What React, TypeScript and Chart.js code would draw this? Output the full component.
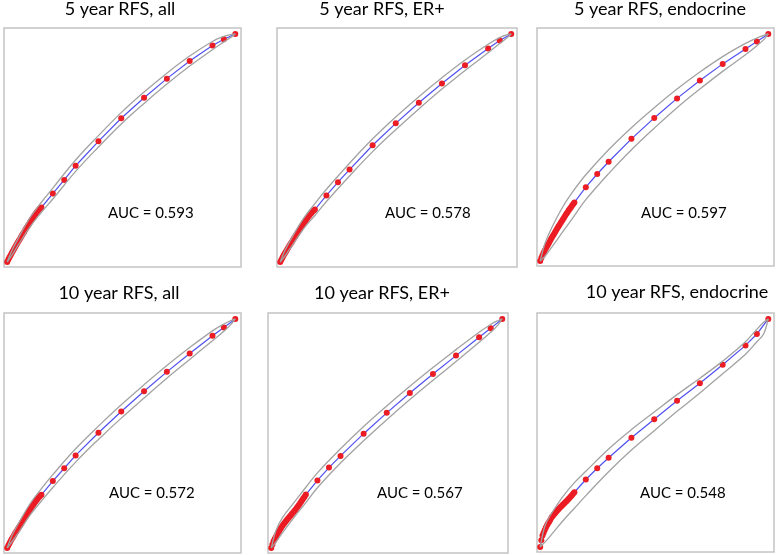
import React, { useEffect, useRef } from "react";
import { Chart, registerables } from "chart.js";

Chart.register(...registerables);

// False positive rates: dense low-threshold region, then sparse points
const denseFpr = [
  0, 0.005, 0.01, 0.015, 0.02, 0.025, 0.03, 0.035, 0.04, 0.045,
  0.05, 0.055, 0.06, 0.065, 0.07, 0.075, 0.08, 0.085, 0.09, 0.095,
  0.1, 0.105, 0.11, 0.115, 0.12, 0.125, 0.13, 0.135, 0.14, 0.145,
];
const sparseFpr = [0.15, 0.2, 0.25, 0.3, 0.4, 0.5, 0.6, 0.7, 0.8, 0.9, 0.95, 1];
const bandFpr = [0, 0.02, 0.05, 0.1, 0.15, 0.2, 0.3, 0.4, 0.5, 0.6, 0.7, 0.8, 0.9, 0.95, 0.98, 1];

const titles = [
  "5 year RFS, all",
  "5 year RFS, ER+",
  "5 year RFS, endocrine",
  "10 year RFS, all",
  "10 year RFS, ER+",
  "10 year RFS, endocrine",
];
const aucLabels = ["AUC = 0.593", "AUC = 0.578", "AUC = 0.597", "AUC = 0.572", "AUC = 0.567", "AUC = 0.548"];

// True positive rates (dense part)
const dense5yAll = [0, 0.011, 0.021, 0.03, 0.039, 0.048, 0.057, 0.066, 0.075, 0.083, 0.092, 0.1, 0.108, 0.117, 0.125, 0.133, 0.142, 0.15, 0.158, 0.166, 0.174, 0.182, 0.19, 0.197, 0.205, 0.212, 0.219, 0.225, 0.231, 0.236];
const dense5yER = [0, 0.01, 0.02, 0.029, 0.038, 0.046, 0.055, 0.063, 0.072, 0.08, 0.088, 0.096, 0.104, 0.112, 0.12, 0.128, 0.136, 0.144, 0.152, 0.16, 0.167, 0.175, 0.182, 0.189, 0.196, 0.203, 0.209, 0.215, 0.221, 0.226];
const dense5yEndo = [0, 0.013, 0.025, 0.036, 0.046, 0.056, 0.065, 0.074, 0.083, 0.092, 0.101, 0.11, 0.118, 0.127, 0.135, 0.144, 0.152, 0.16, 0.168, 0.176, 0.184, 0.192, 0.2, 0.208, 0.215, 0.223, 0.23, 0.237, 0.244, 0.251];
const dense10yAll = [0, 0.011, 0.021, 0.03, 0.039, 0.047, 0.056, 0.064, 0.072, 0.08, 0.088, 0.096, 0.104, 0.112, 0.12, 0.128, 0.136, 0.144, 0.152, 0.16, 0.168, 0.175, 0.183, 0.19, 0.197, 0.204, 0.211, 0.217, 0.223, 0.228];
const dense10yER = [0, 0.015, 0.029, 0.039, 0.049, 0.058, 0.067, 0.075, 0.084, 0.092, 0.099, 0.106, 0.112, 0.119, 0.125, 0.131, 0.137, 0.143, 0.149, 0.155, 0.161, 0.167, 0.174, 0.181, 0.188, 0.195, 0.203, 0.21, 0.218, 0.225];
const dense10yEndo = [0, 0.03, 0.05, 0.062, 0.074, 0.085, 0.095, 0.104, 0.112, 0.121, 0.13, 0.136, 0.142, 0.148, 0.154, 0.16, 0.166, 0.171, 0.176, 0.181, 0.186, 0.191, 0.196, 0.201, 0.206, 0.211, 0.217, 0.222, 0.228, 0.234];

// True positive rates (sparse part)
const sparse5yAll = [0.239, 0.3, 0.36, 0.422, 0.529, 0.63, 0.72, 0.804, 0.881, 0.949, 0.977, 1];
const sparse5yER = [0.23, 0.292, 0.35, 0.405, 0.512, 0.608, 0.698, 0.783, 0.863, 0.936, 0.971, 1];
const sparse5yEndo = [0.258, 0.325, 0.383, 0.437, 0.538, 0.63, 0.716, 0.795, 0.868, 0.934, 0.967, 1];
const sparse10yAll = [0.232, 0.292, 0.348, 0.404, 0.503, 0.596, 0.684, 0.769, 0.849, 0.927, 0.963, 1];
const sparse10yER = [0.233, 0.295, 0.351, 0.402, 0.499, 0.59, 0.677, 0.76, 0.84, 0.92, 0.959, 1];
const sparse10yEndo = [0.24, 0.296, 0.345, 0.391, 0.479, 0.56, 0.641, 0.718, 0.799, 0.884, 0.934, 1];

// Confidence band limits at bandFpr
const upper5yAll = [0, 0.049, 0.107, 0.194, 0.262, 0.324, 0.447, 0.554, 0.655, 0.745, 0.828, 0.903, 0.967, 0.989, 0.997, 1];
const lower5yAll = [0, 0.029, 0.077, 0.154, 0.218, 0.276, 0.397, 0.504, 0.605, 0.695, 0.78, 0.859, 0.931, 0.965, 0.985, 1];
const upper5yER = [0, 0.05, 0.106, 0.19, 0.256, 0.319, 0.433, 0.54, 0.636, 0.725, 0.808, 0.886, 0.955, 0.984, 0.996, 1];
const lower5yER = [0, 0.026, 0.07, 0.144, 0.204, 0.265, 0.377, 0.484, 0.58, 0.671, 0.758, 0.84, 0.917, 0.958, 0.981, 1];
const upper5yEndo = [0, 0.075, 0.145, 0.24, 0.315, 0.38, 0.49, 0.587, 0.675, 0.757, 0.832, 0.9, 0.958, 0.982, 0.994, 1];
const lower5yEndo = [0, 0.02, 0.06, 0.13, 0.2, 0.27, 0.385, 0.49, 0.585, 0.675, 0.757, 0.835, 0.908, 0.948, 0.975, 1];
const upper10yAll = [0, 0.052, 0.108, 0.193, 0.259, 0.32, 0.433, 0.532, 0.625, 0.713, 0.797, 0.875, 0.948, 0.978, 0.993, 1];
const lower10yAll = [0, 0.026, 0.068, 0.143, 0.205, 0.264, 0.375, 0.474, 0.567, 0.655, 0.741, 0.823, 0.905, 0.946, 0.975, 1];
const upper10yER = [0, 0.075, 0.135, 0.2, 0.265, 0.328, 0.433, 0.53, 0.62, 0.706, 0.788, 0.866, 0.942, 0.976, 0.992, 1];
const lower10yER = [0, 0.025, 0.068, 0.135, 0.198, 0.263, 0.371, 0.468, 0.56, 0.648, 0.732, 0.814, 0.898, 0.942, 0.972, 1];
const upper10yEndo = [0, 0.09, 0.148, 0.222, 0.282, 0.332, 0.43, 0.515, 0.592, 0.668, 0.74, 0.815, 0.9, 0.955, 0.985, 1];
const lower10yEndo = [0, 0.02, 0.055, 0.115, 0.17, 0.225, 0.33, 0.425, 0.51, 0.595, 0.675, 0.76, 0.845, 0.9, 0.935, 1];

const denseSets = [dense5yAll, dense5yER, dense5yEndo, dense10yAll, dense10yER, dense10yEndo];
const sparseSets = [sparse5yAll, sparse5yER, sparse5yEndo, sparse10yAll, sparse10yER, sparse10yEndo];
const upperSets = [upper5yAll, upper5yER, upper5yEndo, upper10yAll, upper10yER, upper10yEndo];
const lowerSets = [lower5yAll, lower5yER, lower5yEndo, lower10yAll, lower10yER, lower10yEndo];

// Layout (page pixels): plot boxes, title centers/baselines, AUC label positions
const layout = [
  { l: 3, t: 28, r: 241, b: 267, tx: 120, ty: 15, ax: 108, ay: 218, top: 0 },
  { l: 277, t: 28, r: 517, b: 267, tx: 382, ty: 15, ax: 385, ay: 218, top: 0 },
  { l: 537, t: 28, r: 777, b: 266, tx: 660, ty: 15, ax: 641, ay: 218, top: 0 },
  { l: 2, t: 313, r: 241, b: 553, tx: 119, ty: 299, ax: 109, ay: 498, top: 280 },
  { l: 268, t: 313, r: 508, b: 553, tx: 382, ty: 299, ax: 377, ay: 498, top: 280 },
  { l: 537, t: 313, r: 776, b: 552, tx: 677, ty: 298, ax: 640, ay: 498, top: 280 },
];

const panelDecor = {
  id: "panelDecor",
  beforeDatasetsDraw(chart: any) {
    const { ctx, chartArea: a } = chart;
    ctx.save();
    ctx.strokeStyle = "#c4c4c4";
    ctx.lineWidth = 1.5;
    ctx.strokeRect(a.left, a.top, a.right - a.left, a.bottom - a.top);
    ctx.restore();
  },
  afterDraw(chart: any, _args: any, opts: any) {
    const { ctx } = chart;
    ctx.save();
    ctx.fillStyle = "#000";
    ctx.textBaseline = "alphabetic";
    ctx.textAlign = "center";
    ctx.font = "18px Lato";
    ctx.fillText(opts.title, opts.tx, opts.ty);
    ctx.textAlign = "left";
    ctx.font = "15px Lato";
    ctx.fillText(opts.auc, opts.ax, opts.ay);
    ctx.restore();
  },
};

function Panel({ idx }: { idx: number }) {
  const ref = useRef<HTMLCanvasElement | null>(null);
  const L = layout[idx];
  const cx = Math.max(0, L.l - 4);
  const cr = Math.min(778, L.r + 4);
  const cy = L.top;
  const cb = L.b + 4;
  const w = cr - cx;
  const h = cb - cy;

  useEffect(() => {
    if (!ref.current) return;
    const rocX = [...denseFpr, ...sparseFpr];
    const rocY = [...denseSets[idx], ...sparseSets[idx]];
    const chart = new Chart(ref.current, {
      type: "scatter",
      data: {
        datasets: [
          {
            data: bandFpr.map((x, i) => ({ x, y: upperSets[idx][i] })),
            showLine: true,
            borderColor: "#a2a2a2",
            borderWidth: 1.3,
            pointRadius: 0,
            tension: 0.4,
          },
          {
            data: bandFpr.map((x, i) => ({ x, y: lowerSets[idx][i] })),
            showLine: true,
            borderColor: "#a2a2a2",
            borderWidth: 1.3,
            pointRadius: 0,
            tension: 0.4,
          },
          {
            data: rocX.map((x, i) => ({ x, y: rocY[i] })),
            showLine: true,
            borderColor: "rgba(60,60,240,0.9)",
            borderWidth: 1.2,
            pointRadius: 3,
            pointBackgroundColor: "#ec1c24",
            pointBorderWidth: 0,
            tension: 0,
          },
        ],
      },
      options: {
        animation: false,
        responsive: false,
        maintainAspectRatio: false,
        layout: {
          padding: { left: L.l - cx, top: L.t - cy, right: cr - L.r, bottom: cb - L.b },
        },
        scales: {
          x: { type: "linear", display: false, min: -0.014, max: 1.025 },
          y: { type: "linear", display: false, min: -0.022, max: 1.026 },
        },
        plugins: {
          legend: { display: false },
          tooltip: { enabled: false },
          title: { display: false },
          panelDecor: {
            title: titles[idx],
            auc: aucLabels[idx],
            tx: L.tx - cx,
            ty: L.ty - cy,
            ax: L.ax - cx,
            ay: L.ay - cy,
          },
        } as any,
      },
      plugins: [panelDecor as any],
    });
    return () => chart.destroy();
  }, [idx]);

  return (
    <canvas
      ref={ref}
      width={w}
      height={h}
      style={{ position: "absolute", left: cx, top: cy, width: w, height: h }}
    />
  );
}

export default function App() {
  useEffect(() => {
    document.body.style.margin = "0";
  }, []);
  return (
    <div style={{ position: "relative", width: 778, height: 555, background: "#fff", overflow: "hidden" }}>
      {[0, 1, 2, 3, 4, 5].map((i) => (
        <Panel key={i} idx={i} />
      ))}
    </div>
  );
}
